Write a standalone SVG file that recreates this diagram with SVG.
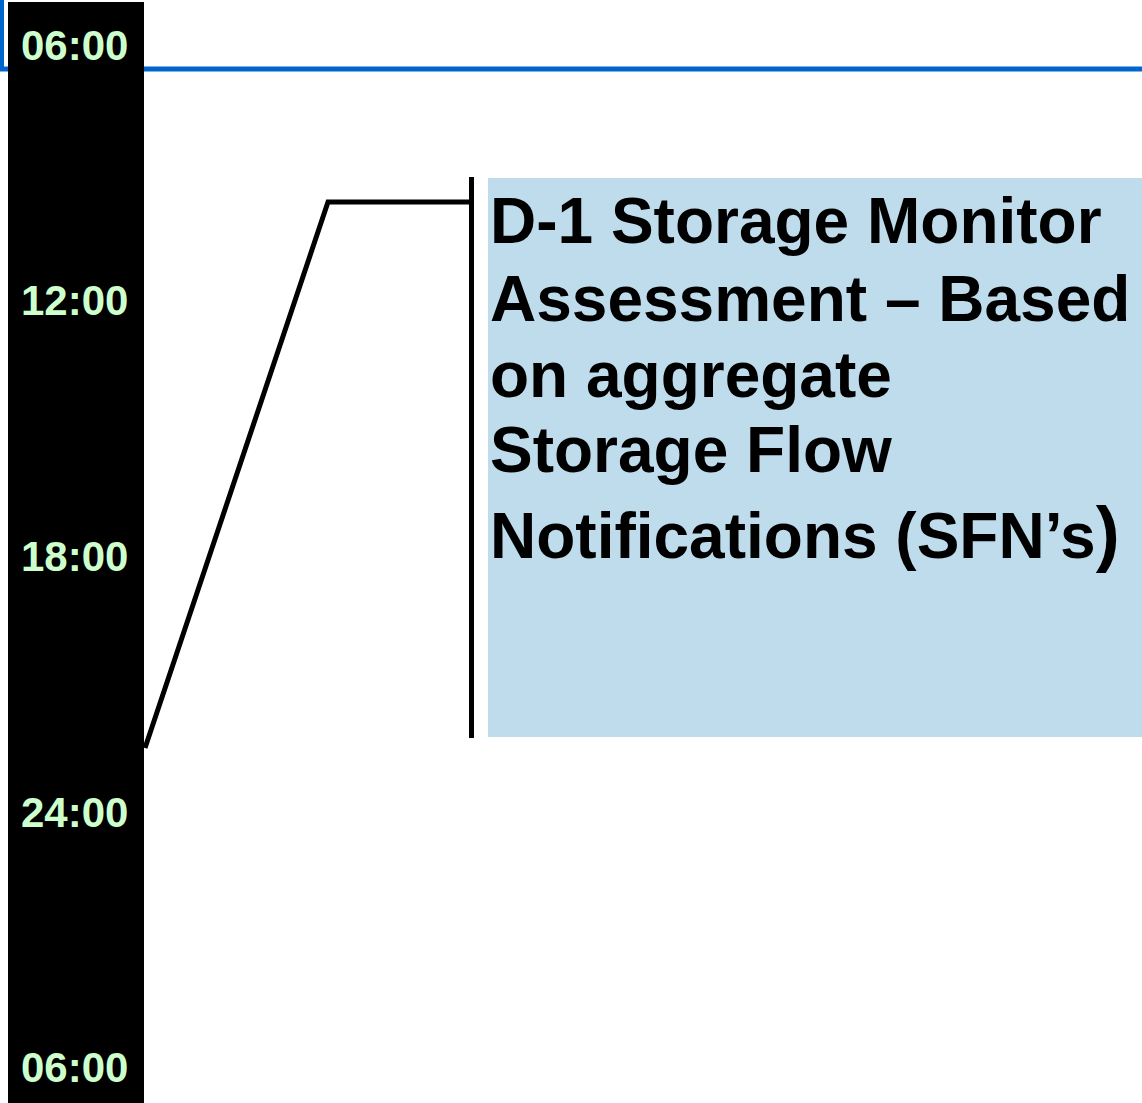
<svg xmlns="http://www.w3.org/2000/svg" width="1142" height="1103" viewBox="0 0 1142 1103">
  <style>
    .time { font-family: "Liberation Sans", Arial, sans-serif; font-weight: bold; font-size: 42px; fill: #CCFFCC; }
    .label { font-family: "Liberation Sans", Arial, sans-serif; font-weight: bold; font-size: 64px; fill: #000000; }
    .conn { fill: none; stroke: #000000; stroke-width: 5; }
  </style>
  <rect x="0" y="0" width="1142" height="1103" fill="#FFFFFF"/>
  <g id="header">
    <line x1="0" y1="69" x2="1142" y2="69" stroke="#0066CC" stroke-width="5"/>
    <line x1="2" y1="0" x2="2" y2="71" stroke="#0066CC" stroke-width="4"/>
  </g>
  <g id="timeline">
    <rect x="8" y="2" width="136" height="1101" fill="#000000"/>
    <text class="time" x="21" y="60">06:00</text>
    <text class="time" x="21" y="315">12:00</text>
    <text class="time" x="21" y="571">18:00</text>
    <text class="time" x="21" y="827">24:00</text>
    <text class="time" x="21" y="1082">06:00</text>
  </g>
  <g id="connectors">
    <polyline class="conn" points="145,748 328,202 471,202"/>
    <line class="conn" x1="471.5" y1="177" x2="471.5" y2="738" stroke-width="6"/>
  </g>
  <g id="assessment">
    <rect x="488" y="178" width="654" height="559" fill="#BEDCEC"/>
    <text class="label">
      <tspan x="490" y="243">D-1 Storage Monitor</tspan>
      <tspan x="490" y="321">Assessment – Based</tspan>
      <tspan x="490" y="397">on aggregate</tspan>
      <tspan x="490" y="472">Storage Flow</tspan>
      <tspan x="490" y="558">Notifications (SFN’s<tspan font-size="72px">)</tspan></tspan>
    </text>
  </g>
</svg>
